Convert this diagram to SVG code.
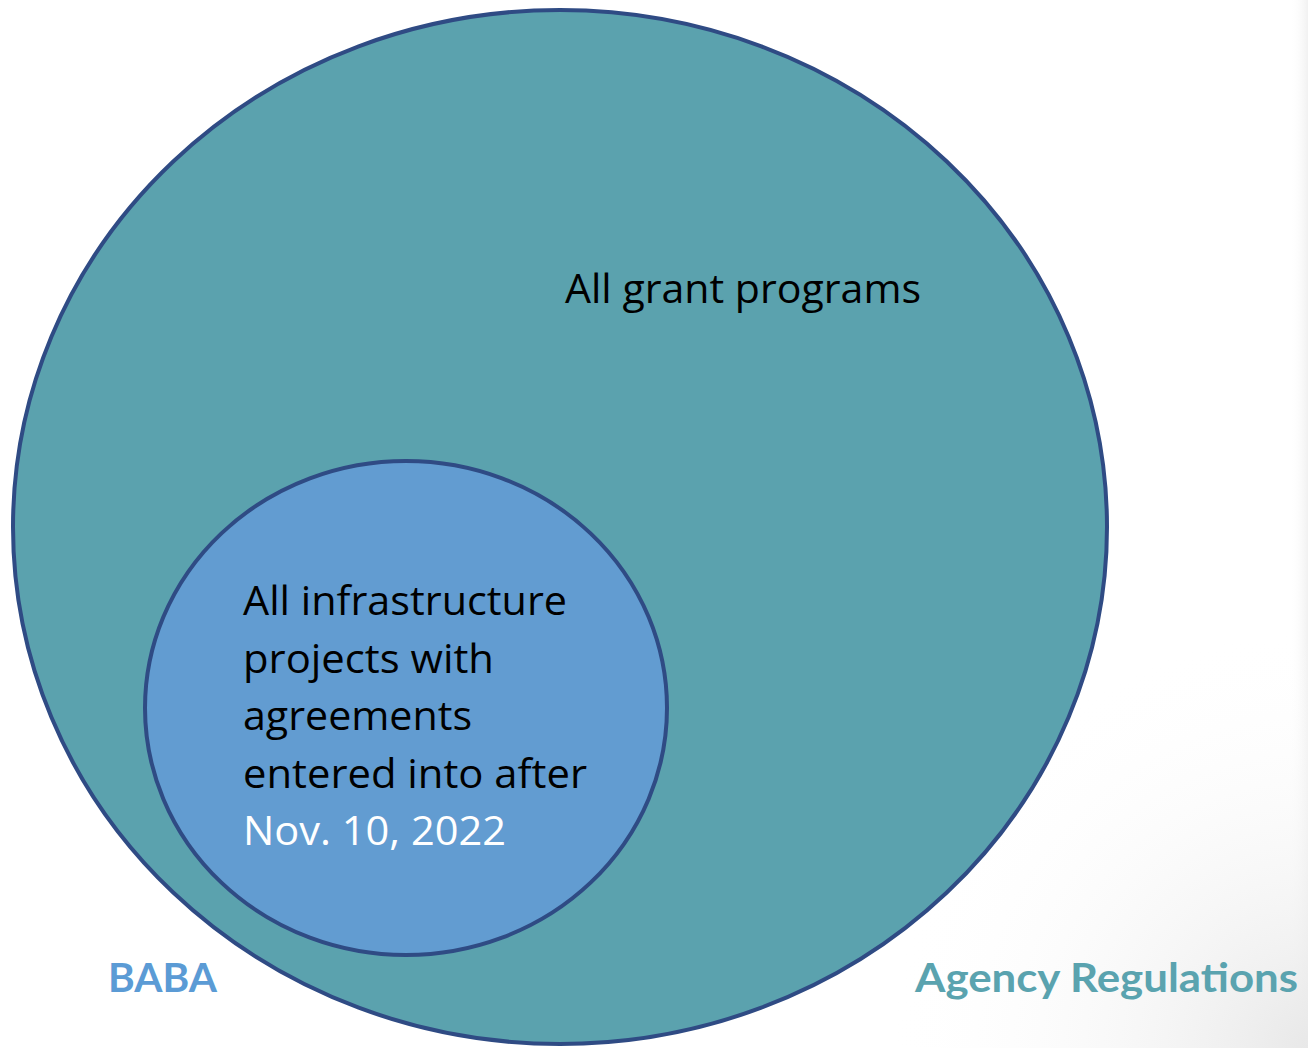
<svg xmlns="http://www.w3.org/2000/svg" width="1308" height="1048" viewBox="0 0 1308 1048">
  <style>
    .circ { stroke: #2F4B84; stroke-width: 4; }
    .txt { font-family: "Open Sans", "Liberation Sans", sans-serif; font-size: 41px; }
    .lbl { font-family: Lato, "Open Sans", "Liberation Sans", sans-serif; font-size: 41px; font-weight: bold; }
  </style>
  <defs>
    <linearGradient id="edge" x1="0" y1="0" x2="1" y2="0">
      <stop offset="0" stop-color="#ffffff" stop-opacity="0"/>
      <stop offset="1" stop-color="#f1f1f1" stop-opacity="1"/>
    </linearGradient>
    <radialGradient id="corner" cx="1308" cy="1048" r="420" gradientUnits="userSpaceOnUse">
      <stop offset="0" stop-color="#e8e8e8"/>
      <stop offset="1" stop-color="#ffffff" stop-opacity="0"/>
    </radialGradient>
  </defs>
  <rect x="0" y="0" width="1308" height="1048" fill="#ffffff"/>
  <rect x="1290" y="0" width="18" height="1048" fill="url(#edge)"/>
  <rect x="888" y="628" width="420" height="420" fill="url(#corner)"/>

  <g id="agency-regulations">
    <ellipse class="circ" cx="560" cy="527" rx="547" ry="517" fill="#5BA2AE"/>
    <text class="txt" x="565" y="303" fill="#000000" textLength="356" lengthAdjust="spacingAndGlyphs">All grant programs</text>
  </g>

  <g id="baba">
    <ellipse class="circ" cx="406" cy="708" rx="261" ry="247" fill="#629CD1"/>
    <text class="txt" fill="#000000">
      <tspan x="243" y="615" textLength="324" lengthAdjust="spacingAndGlyphs">All infrastructure</tspan>
      <tspan x="243" y="672.5" textLength="251" lengthAdjust="spacingAndGlyphs">projects with</tspan>
      <tspan x="243" y="730" textLength="229" lengthAdjust="spacingAndGlyphs">agreements</tspan>
      <tspan x="243" y="787.5" textLength="344" lengthAdjust="spacingAndGlyphs">entered into after</tspan>
    </text>
    <text class="txt" x="243" y="845" fill="#ffffff" textLength="263" lengthAdjust="spacingAndGlyphs">Nov. 10, 2022</text>
  </g>

  <g id="labels">
    <text class="lbl" x="108" y="992" fill="#5B9BD5" textLength="109" lengthAdjust="spacingAndGlyphs">BABA</text>
    <text class="lbl" x="915" y="992" fill="#5AA3AF" textLength="383" lengthAdjust="spacingAndGlyphs">Agency Regulations</text>
  </g>

  <g id="connectors"/>
</svg>
